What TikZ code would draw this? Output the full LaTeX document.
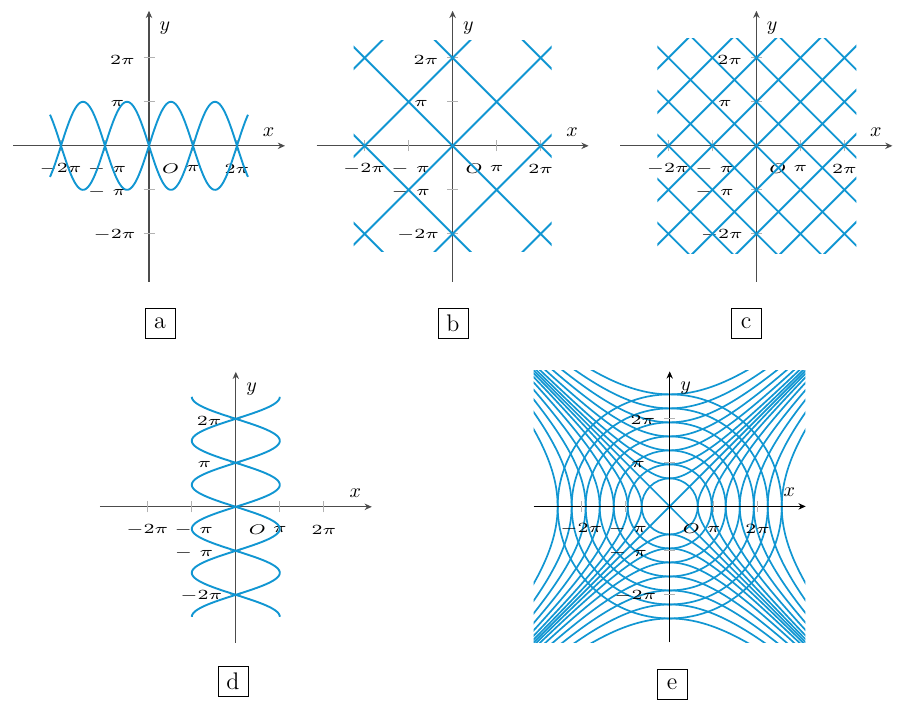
\documentclass[tikz,border=0pt]{standalone}
\usepackage{graphicx}
\usetikzlibrary{arrows.meta}
\definecolor{curve}{RGB}{17,150,210}
\tikzset{
  axisline/.style={line width=0.6pt, -{Stealth[length=3.6pt,width=3.2pt]}},
  tickmark/.style={draw=black!30, line width=0.6pt},
  curveline/.style={draw=curve, line width=0.95pt},
  ticklabel/.style={font=\scriptsize, inner sep=0pt},
  axisname/.style={font=\normalsize, inner sep=0pt},
  tagbox/.style={draw, line width=0.45pt, minimum width=15pt, minimum height=15pt, inner sep=0pt, font=\large},
  unitscope/.style={x=7.0028pt, y=7.0028pt},
}
\newcommand{\tl}[1]{\scalebox{1.38}[1]{$#1$}}
\newcommand{\drawaxes}[2]{%
  \draw[axisline, draw=#1] (-68pt,0pt) coordinate (#2xl) -- (68pt,0pt) coordinate (#2xr);
  \draw[axisline, draw=#1] (0pt,-68pt) coordinate (#2yb) -- (0pt,67.5pt) coordinate (#2yt);
  \foreach \t in {-44, -22, 22, 44}{%
    \draw[tickmark] (\t pt,-2.75pt) -- (\t pt,2.75pt);
    \draw[tickmark] (-2.75pt,\t pt) -- (2.75pt,\t pt);
  }
  \node[ticklabel] (#2lxm2) at (-44.25pt,-11.35pt) {\tl{-2\pi}};
  \node[ticklabel] (#2lxm1) at (-21pt,-11.35pt) {\tl{-\ \pi}};
  \node[ticklabel] (#2lo) at (10.75pt,-11.35pt) {\tl{O}};
  \node[ticklabel] (#2lxp1) at (22pt,-11.35pt) {\tl{\pi}};
  \node[ticklabel] (#2lxp2) at (44pt,-11.35pt) {\tl{2\pi}};
  \node[ticklabel] (#2lyp2) at (-13.35pt,43pt) {\tl{2\pi}};
  \node[ticklabel] (#2lyp1) at (-15.75pt,21.15pt) {\tl{\pi}};
  \node[ticklabel] (#2lym1) at (-20.9pt,-23.15pt) {\tl{-\ \pi}};
  \node[ticklabel] (#2lym2) at (-17.25pt,-44.65pt) {\tl{-2\pi}};
  \node[axisname] (#2nx) at (59.75pt,6.9pt) {$x$};
  \node[axisname] (#2ny) at (7.9pt,59pt) {$y$};
}
\begin{document}
\begin{tikzpicture}
\useasboundingbox (0pt,0pt) rectangle (451.5pt,-354pt);

% ---------- panel a ----------
\begin{scope}[shift={(74.5pt,-72.9pt)}]
  \drawaxes{black!70}{a}
  \begin{scope}[unitscope]
    \draw[curveline, domain=-2.25*pi:2.25*pi, samples=200, smooth] plot (\x,{pi*sin(\x r)});
    \draw[curveline, domain=-2.25*pi:2.25*pi, samples=200, smooth] plot (\x,{-pi*sin(\x r)});
  \end{scope}
\end{scope}
\node[tagbox] (taga) at (80pt,-161.5pt) {a};

% ---------- panel b ----------
\begin{scope}[shift={(226.3pt,-72.9pt)}]
  \drawaxes{black!70}{b}
  \begin{scope}[unitscope]
    \clip (-2.25*pi,-2.4*pi) rectangle (2.25*pi,2.4*pi);
    \foreach \k in {-2,...,2}{%
      \draw[curveline] (-5*pi,{-5*pi+2*\k*pi}) -- (5*pi,{5*pi+2*\k*pi});
      \draw[curveline] (-5*pi,{5*pi+2*\k*pi}) -- (5*pi,{-5*pi+2*\k*pi});
    }
  \end{scope}
\end{scope}
\node[tagbox] (tagb) at (226.5pt,-161.5pt) {b};

% ---------- panel c ----------
\begin{scope}[shift={(378.2pt,-72.9pt)}]
  \drawaxes{black!70}{c}
  \begin{scope}[unitscope]
    \clip (-2.25*pi,-2.45*pi) rectangle (2.27*pi,2.45*pi);
    \foreach \k in {-5,...,5}{%
      \draw[curveline] (-5*pi,{-5*pi+\k*pi}) -- (5*pi,{5*pi+\k*pi});
      \draw[curveline] (-5*pi,{5*pi+\k*pi}) -- (5*pi,{-5*pi+\k*pi});
    }
  \end{scope}
\end{scope}
\node[tagbox] (tagc) at (373pt,-161.5pt) {c};

% ---------- panel d ----------
\begin{scope}[shift={(117.9pt,-253.4pt)}]
  \drawaxes{black!70}{d}
  \begin{scope}[unitscope]
    \draw[curveline, domain=-2.5*pi:2.5*pi, samples=200, smooth] plot ({pi*sin(\x r)},\x);
    \draw[curveline, domain=-2.5*pi:2.5*pi, samples=200, smooth] plot ({-pi*sin(\x r)},\x);
  \end{scope}
\end{scope}
\node[tagbox] (tagd) at (116.5pt,-340.5pt) {d};

% ---------- panel e ----------
\begin{scope}[shift={(334.85pt,-253.2pt)}]
  \begin{scope}[unitscope]
    \clip (-9.72,-9.72) rectangle (9.68,9.68);
    \foreach \k in {2,...,8}{%
      \draw[curveline, line width=0.85pt] (0,0) circle (\k);
      \draw[curveline, line width=0.85pt, domain=-10:10, samples=80, smooth] plot ({sqrt(\k*\k+\x*\x)},\x);
      \draw[curveline, line width=0.85pt, domain=-10:10, samples=80, smooth] plot ({-sqrt(\k*\k+\x*\x)},\x);
      \draw[curveline, line width=0.85pt, domain=-10:10, samples=80, smooth] plot (\x,{sqrt(\k*\k+\x*\x)});
      \draw[curveline, line width=0.85pt, domain=-10:10, samples=80, smooth] plot (\x,{-sqrt(\k*\k+\x*\x)});
    }
    \draw[curveline, line width=0.85pt] (-10,-10) -- (10,10);
    \draw[curveline, line width=0.85pt] (-10,10) -- (10,-10);
  \end{scope}
  \drawaxes{black}{e}
\end{scope}
\node[tagbox] (tage) at (336pt,-342pt) {e};
\end{tikzpicture}
\end{document}
